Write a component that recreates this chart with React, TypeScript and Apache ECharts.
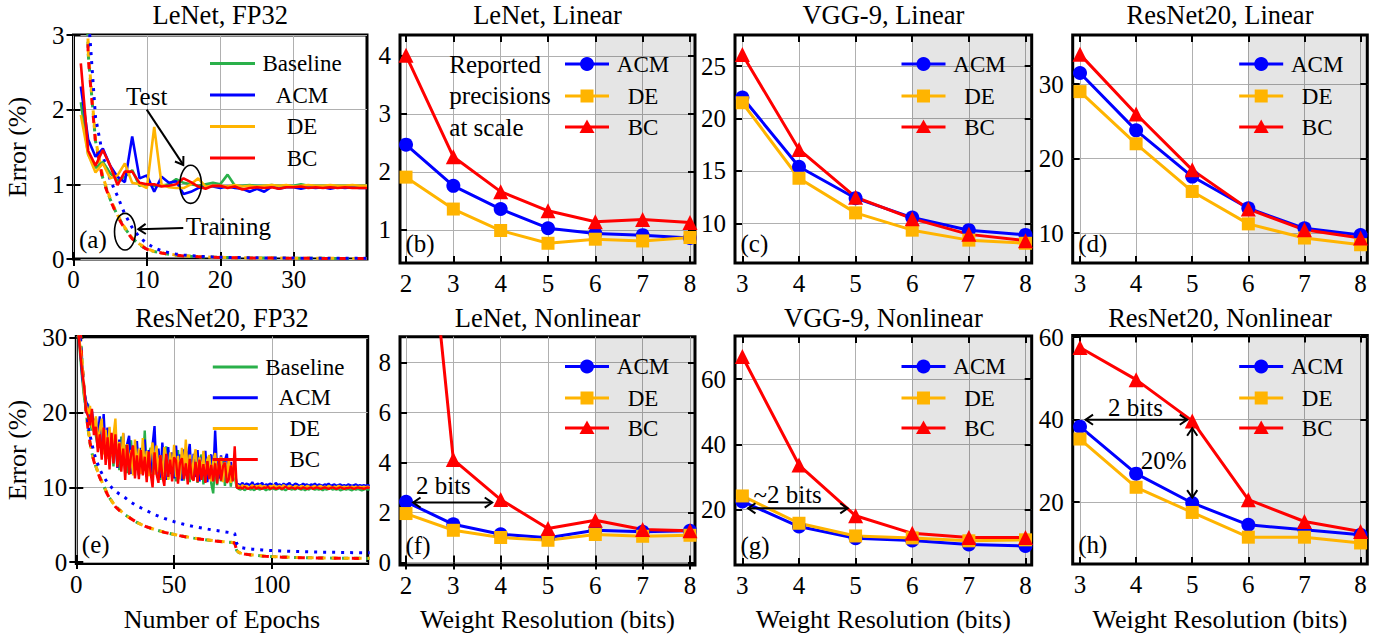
import React, { useEffect, useRef } from "react";
import * as echarts from "echarts";

const FONT = "Liberation Serif";
const C_BASE = "#2ab04a";
const C_ACM = "#0000ff";
const C_DE = "#ffb400";
const C_BC = "#ff0000";

// ---------------- tick labels ----------------
const ticksAx = [0, 10, 20, 30];
const ticksAy = [0, 1, 2, 3];
const ticksEx = [0, 50, 100];
const ticksEy = [0, 10, 20, 30];
const bitsLeNet = [2, 3, 4, 5, 6, 7, 8];
const bitsDeep = [3, 4, 5, 6, 7, 8];
const ticksBy = [1, 2, 3, 4];
const ticksCy = [10, 15, 20, 25];
const ticksDy = [10, 20, 30];
const ticksFy = [0, 2, 4, 6, 8];
const ticksGy = [20, 40, 60];
const ticksHy = [20, 40, 60];

// ---------------- titles / labels ----------------
const titles = [
  "LeNet, FP32", "LeNet, Linear", "VGG-9, Linear", "ResNet20, Linear",
  "ResNet20, FP32", "LeNet, Nonlinear", "VGG-9, Nonlinear", "ResNet20, Nonlinear",
];
const tags = ["(a)", "(b)", "(c)", "(d)", "(e)", "(f)", "(g)", "(h)"];
const fpLegend = ["Baseline", "ACM", "DE", "BC"];
const qLegend = ["ACM", "DE", "BC"];
const reportedLines = ["Reported", "precisions", "at scale"];

// ---------------- (a) LeNet FP32, epochs 1..40 ----------------
const aTestBaseline = [2.10, 1.40, 1.22, 1.30, 1.15, 1.05, 1.10, 1.19, 0.98, 1.00, 0.98, 0.98, 1.00, 1.07, 1.02, 1.00, 0.98, 1.00, 1.02, 1.00, 1.13, 0.98, 0.98, 0.99, 0.98, 0.98, 0.99, 0.98, 0.98, 0.98, 1.00, 0.98, 0.98, 0.98, 0.98, 0.98, 0.98, 0.98, 0.98, 0.98];
const aTestACM = [2.31, 1.60, 1.37, 1.48, 1.25, 1.10, 1.03, 1.64, 1.08, 1.12, 0.90, 1.10, 1.02, 1.04, 0.87, 0.90, 0.95, 0.97, 0.97, 0.95, 0.97, 0.95, 0.94, 0.90, 0.94, 0.90, 0.97, 0.94, 0.96, 0.96, 0.94, 0.96, 0.95, 0.96, 0.94, 0.96, 0.95, 0.96, 0.95, 0.95];
const aTestDE = [1.93, 1.40, 1.16, 1.28, 1.08, 1.12, 1.28, 1.02, 1.00, 0.95, 1.77, 1.00, 0.96, 0.95, 0.95, 1.00, 1.08, 0.97, 0.98, 0.98, 0.97, 0.99, 0.97, 0.98, 0.97, 0.98, 0.99, 0.98, 0.99, 0.97, 0.98, 0.99, 0.98, 0.98, 0.99, 0.98, 0.98, 0.99, 0.98, 0.98];
const aTestBC = [2.62, 1.45, 1.25, 1.46, 1.25, 0.99, 1.17, 1.17, 1.02, 1.00, 1.00, 0.97, 0.98, 1.00, 1.08, 1.03, 0.97, 0.94, 0.98, 0.98, 0.95, 0.97, 0.93, 0.95, 0.96, 0.95, 0.96, 0.94, 0.96, 0.96, 0.97, 0.95, 0.96, 0.95, 0.96, 0.95, 0.96, 0.95, 0.95, 0.95];
const aTrainBaseline = [9.5, 2.75, 1.58, 1.08, 0.80, 0.58, 0.41, 0.28, 0.19, 0.13, 0.10, 0.08, 0.065, 0.05, 0.042, 0.036, 0.031, 0.027, 0.024, 0.021, 0.019, 0.017, 0.016, 0.015, 0.014, 0.013, 0.012, 0.011, 0.011, 0.010, 0.010, 0.009, 0.009, 0.009, 0.008, 0.008, 0.008, 0.008, 0.007, 0.007];
const aTrainDE = [9.3, 2.80, 1.60, 1.10, 0.81, 0.59, 0.42, 0.28, 0.20, 0.14, 0.10, 0.08, 0.066, 0.052, 0.043, 0.037, 0.032, 0.028, 0.024, 0.022, 0.019, 0.018, 0.016, 0.015, 0.014, 0.013, 0.012, 0.012, 0.011, 0.010, 0.010, 0.010, 0.009, 0.009, 0.009, 0.008, 0.008, 0.008, 0.008, 0.007];
const aTrainBC = [9.6, 2.70, 1.56, 1.06, 0.79, 0.57, 0.40, 0.27, 0.19, 0.13, 0.10, 0.08, 0.064, 0.05, 0.041, 0.035, 0.030, 0.027, 0.023, 0.021, 0.019, 0.017, 0.016, 0.014, 0.013, 0.012, 0.012, 0.011, 0.010, 0.010, 0.010, 0.009, 0.009, 0.008, 0.008, 0.008, 0.008, 0.007, 0.007, 0.007];
const aTrainACM = [10.0, 3.30, 1.90, 1.38, 1.06, 0.84, 0.60, 0.42, 0.29, 0.21, 0.15, 0.11, 0.085, 0.065, 0.052, 0.044, 0.037, 0.032, 0.028, 0.025, 0.022, 0.020, 0.018, 0.017, 0.016, 0.015, 0.014, 0.013, 0.012, 0.012, 0.011, 0.011, 0.010, 0.010, 0.010, 0.009, 0.009, 0.009, 0.009, 0.008];

// ---------------- (e) ResNet20 FP32, epochs 1..150 ----------------
const eTestACMEarly = [31, 28.5, 25, 23, 21.5, 20.8, 19.5, 20.2, 18.0, 19.3, 16.5, 19.5, 15.8, 19.8, 14.6, 18.0, 13.8, 17.2, 14.0, 16.9, 12.6, 16.4, 13.0, 17.2, 12.2, 15.8, 16.9, 11.8, 15.6, 12.6, 16.2, 11.6, 15.3, 12.4, 16.4, 11.4, 15.0, 12.0, 15.7, 18.2, 11.8, 15.2, 11.3, 16.0, 12.2, 11.0, 15.4, 11.8, 14.7, 11.2, 15.6, 11.6, 14.4, 10.9, 15.1, 11.6, 14.2, 15.8, 11.0, 14.5, 11.4, 15.0, 10.8, 14.1, 11.5, 14.9, 10.7, 13.8, 14.4, 11.3, 17.6, 12.0, 11.2, 14.3, 10.8, 13.6, 14.5, 11.0, 13.4, 10.9, 12.2, 10.5];
const eTestACMLate = [10.4, 10.3, 10.6, 10.2, 10.5, 10.4, 10.3, 10.7, 10.2, 10.4, 10.5, 10.3, 10.6, 10.2, 10.4, 10.3, 10.5, 10.4, 10.2, 10.6, 10.3, 10.4, 10.2, 10.5, 10.3, 10.4, 10.6, 10.2, 10.3, 10.5, 10.4, 10.2, 10.3, 10.5, 10.3, 10.4, 10.2, 10.4, 10.3, 10.5, 10.2, 10.4, 10.3, 10.2, 10.4, 10.3, 10.5, 10.2, 10.3, 10.4, 10.2, 10.3, 10.4, 10.2, 10.3, 10.2, 10.4, 10.3, 10.2, 10.3, 10.4, 10.2, 10.3, 10.2, 10.3, 10.2, 10.3, 10.2];
const eTestBaseEarly = [31.5, 27.5, 24.5, 22.0, 20.5, 21.2, 18.8, 17.6, 19.1, 16.9, 15.4, 18.6, 14.5, 17.4, 14.0, 17.9, 13.4, 16.7, 12.8, 16.0, 15.2, 12.3, 16.8, 13.0, 15.7, 11.9, 15.1, 16.3, 12.1, 14.5, 15.4, 11.7, 14.7, 12.0, 17.6, 11.5, 14.4, 15.3, 11.3, 14.0, 12.1, 14.9, 11.0, 14.2, 11.8, 15.5, 11.1, 13.8, 11.6, 14.6, 10.8, 15.0, 11.5, 13.9, 10.9, 13.6, 14.8, 10.7, 13.7, 11.4, 14.1, 10.6, 13.5, 14.4, 10.4, 13.2, 11.1, 13.8, 10.5, 9.2, 13.3, 10.3, 12.8, 10.8, 13.6, 10.2, 12.6, 13.1, 10.1, 12.3, 11.4, 10.0];
const eTestBaseLate = [9.8, 9.7, 9.9, 9.6, 9.8, 9.9, 9.7, 9.8, 9.6, 9.9, 9.8, 9.7, 9.9, 9.8, 9.6, 9.8, 9.7, 9.9, 9.8, 9.7, 9.8, 9.9, 9.7, 9.8, 9.6, 9.8, 9.9, 9.7, 9.8, 9.7, 9.9, 9.8, 9.7, 9.8, 9.6, 9.8, 9.7, 9.9, 9.8, 9.7, 9.8, 9.7, 9.8, 9.6, 9.8, 9.7, 9.8, 9.9, 9.7, 9.8, 9.7, 9.8, 9.6, 9.7, 9.8, 9.7, 9.8, 9.7, 9.6, 9.8, 9.7, 9.8, 9.7, 9.6, 9.7, 9.8, 9.7, 9.7];
const eTestDEEarly = [30.5, 29.0, 26.4, 22.5, 21.0, 19.8, 20.9, 18.2, 17.5, 19.5, 15.6, 17.8, 19.2, 14.4, 17.7, 13.8, 18.1, 14.2, 16.9, 19.2, 13.1, 16.1, 13.3, 17.3, 12.6, 15.8, 12.8, 15.0, 11.6, 16.4, 12.3, 15.2, 11.8, 16.6, 12.2, 14.9, 11.5, 14.5, 16.0, 11.7, 15.6, 12.0, 14.3, 11.2, 15.4, 14.0, 11.0, 14.7, 11.9, 15.7, 11.4, 14.2, 11.1, 15.3, 11.8, 16.4, 11.3, 14.4, 11.0, 13.8, 15.1, 11.2, 14.0, 11.7, 14.9, 10.9, 13.7, 14.3, 10.8, 13.5, 14.6, 11.1, 13.2, 14.1, 10.7, 13.4, 11.2, 13.9, 10.6, 13.0, 11.8, 10.3];
const eTestDELate = [10.2, 10.0, 10.3, 10.1, 10.2, 9.9, 10.1, 10.3, 10.0, 10.2, 10.1, 10.3, 10.0, 10.2, 10.1, 9.9, 10.2, 10.1, 10.3, 10.0, 10.1, 10.2, 10.0, 10.3, 10.1, 10.0, 10.2, 10.1, 9.9, 10.2, 10.1, 10.0, 10.2, 10.1, 10.0, 10.2, 10.1, 10.0, 10.1, 10.2, 10.0, 10.1, 10.2, 10.0, 10.1, 10.0, 10.2, 10.1, 10.0, 10.1, 10.0, 10.2, 10.1, 10.0, 10.1, 10.0, 10.1, 10.0, 10.1, 10.0, 10.1, 10.0, 10.1, 10.0, 10.1, 10.0, 10.1, 10.0];
const eTestBCEarly = [31.0, 28.0, 25.5, 23.5, 20.2, 19.5, 18.3, 20.5, 17.0, 18.1, 14.7, 17.1, 13.7, 18.0, 13.0, 16.7, 12.4, 17.3, 13.2, 17.1, 12.7, 15.9, 12.1, 15.2, 11.0, 15.7, 11.7, 14.4, 15.6, 11.2, 14.3, 11.1, 15.0, 11.6, 14.1, 10.7, 14.8, 11.9, 10.0, 14.7, 11.8, 10.6, 14.3, 11.5, 10.2, 14.5, 11.4, 13.7, 10.8, 14.0, 13.6, 10.5, 13.3, 13.9, 11.1, 13.2, 10.4, 13.8, 11.3, 10.9, 13.4, 10.7, 13.7, 11.0, 13.1, 10.6, 13.5, 11.1, 13.0, 10.8, 13.2, 10.5, 13.6, 10.9, 12.8, 13.3, 10.6, 11.1, 12.9, 10.8, 15.5, 10.0];
const eTestBCLate = [9.9, 10.0, 9.8, 10.1, 9.9, 9.8, 10.0, 9.9, 10.1, 9.8, 10.0, 9.9, 9.8, 10.0, 9.9, 10.1, 9.8, 9.9, 10.0, 9.8, 9.9, 10.0, 9.8, 9.9, 10.1, 9.9, 9.8, 10.0, 9.9, 9.8, 10.0, 9.9, 9.8, 10.0, 9.9, 9.8, 9.9, 10.0, 9.8, 9.9, 10.0, 9.9, 9.8, 9.9, 10.0, 9.9, 9.8, 9.9, 10.0, 9.9, 9.8, 9.9, 10.0, 9.9, 9.8, 9.9, 9.9, 10.0, 9.9, 9.8, 9.9, 10.0, 9.9, 9.9, 9.8, 9.9, 10.0, 9.9];
const eTrainEpochs = [1, 2, 3, 4, 5, 6, 7, 8, 9, 10, 12, 14, 16, 18, 20, 22, 25, 28, 31, 35, 40, 45, 50, 55, 60, 65, 70, 75, 80, 81, 82, 83, 84, 86, 88, 90, 95, 100, 105, 110, 120, 130, 140, 150];
const eTrainBaseline = [45, 31, 26.5, 23, 20.3, 17.8, 16.0, 14.6, 13.6, 12.8, 11.4, 10.2, 9.0, 8.2, 7.5, 7.0, 6.3, 5.8, 5.3, 4.8, 4.35, 3.98, 3.68, 3.42, 3.2, 3.02, 2.86, 2.72, 2.6, 2.55, 1.55, 1.3, 1.18, 1.08, 1.0, 0.94, 0.82, 0.73, 0.66, 0.61, 0.56, 0.52, 0.5, 0.48];
const eTrainDE = [44, 31.2, 26.6, 23.1, 20.4, 17.9, 16.1, 14.7, 13.6, 12.8, 11.4, 10.2, 9.1, 8.2, 7.5, 7.0, 6.3, 5.8, 5.3, 4.8, 4.36, 3.99, 3.69, 3.43, 3.21, 3.03, 2.87, 2.73, 2.61, 2.56, 1.56, 1.31, 1.19, 1.09, 1.0, 0.95, 0.83, 0.74, 0.67, 0.62, 0.57, 0.53, 0.51, 0.49];
const eTrainBC = [45, 30.8, 26.4, 22.9, 20.2, 17.8, 16.0, 14.5, 13.5, 12.7, 11.3, 10.1, 9.0, 8.1, 7.4, 6.9, 6.3, 5.8, 5.3, 4.8, 4.34, 3.97, 3.67, 3.41, 3.19, 3.01, 2.85, 2.71, 2.59, 2.54, 1.54, 1.29, 1.17, 1.07, 0.99, 0.93, 0.81, 0.72, 0.65, 0.6, 0.55, 0.51, 0.49, 0.47];
const eTrainACM = [42, 30.5, 26, 22.8, 20.5, 18.5, 17.0, 15.8, 14.7, 13.8, 12.4, 11.4, 10.6, 10.0, 9.5, 9.1, 8.6, 8.0, 7.5, 7.0, 6.35, 5.85, 5.4, 5.05, 4.75, 4.5, 4.28, 4.08, 3.88, 3.82, 2.5, 2.1, 1.95, 1.85, 1.78, 1.72, 1.62, 1.53, 1.47, 1.42, 1.35, 1.3, 1.26, 1.23];

// ---------------- quantized results ----------------
const bLeNetLinACM = [2.47, 1.76, 1.36, 1.03, 0.94, 0.91, 0.86];
const bLeNetLinDE = [1.91, 1.36, 0.99, 0.77, 0.84, 0.81, 0.87];
const bLeNetLinBC = [4.01, 2.26, 1.66, 1.33, 1.14, 1.18, 1.13];

const cVggLinACM = [22.0, 15.4, 12.4, 10.55, 9.35, 8.9];
const cVggLinDE = [21.5, 14.3, 11.0, 9.35, 8.4, 8.1];
const cVggLinBC = [26.1, 17.05, 12.5, 10.45, 8.95, 8.35];

const dResLinACM = [31.5, 23.8, 17.6, 13.35, 10.65, 9.75];
const dResLinDE = [29.0, 22.0, 15.6, 11.25, 9.35, 8.45];
const dResLinBC = [34.0, 26.0, 18.5, 13.25, 10.45, 9.35];

const fLeNetNlACM = [2.43, 1.53, 1.13, 0.99, 1.29, 1.23, 1.27];
const fLeNetNlDE = [1.96, 1.29, 1.0, 0.89, 1.12, 1.05, 1.09];
const fLeNetNlBC = [22.8, 4.12, 2.52, 1.36, 1.69, 1.32, 1.27];

const gVggNlACM = [22.4, 14.7, 11.1, 10.4, 9.2, 8.7];
const gVggNlDE = [24.1, 15.7, 11.8, 11.2, 10.3, 10.6];
const gVggNlBC = [67.0, 33.6, 18.0, 12.6, 11.3, 11.3];

const hResNlACM = [38.3, 26.9, 19.8, 14.5, 13.3, 12.1];
const hResNlDE = [35.3, 23.6, 17.5, 11.5, 11.5, 10.1];
const hResNlBC = [57.5, 49.7, 39.7, 20.6, 15.3, 12.9];

const shadeFromBits = 6;

// ---------------- layout (pixels / limits) ----------------
const layout = [
  { left: 73.5, top: 35, width: 293.5, height: 224, xMin: 0, xMax: 40, yMin: 0, yMax: 3, xT: ticksAx, yT: ticksAy },
  { left: 400, top: 35, width: 295, height: 228, xMin: 1.873, xMax: 8.106, yMin: 0.43, yMax: 4.36, xT: bitsLeNet, yT: ticksBy },
  { left: 735, top: 35, width: 296.7, height: 228, xMin: 2.87, xMax: 8.11, yMin: 6.22, yMax: 27.96, xT: bitsDeep, yT: ticksCy },
  { left: 1072.7, top: 35, width: 294.6, height: 228, xMin: 2.87, xMax: 8.12, yMin: 6.0, yMax: 36.6, xT: bitsDeep, yT: ticksDy },
  { left: 76.3, top: 336.5, width: 291.4, height: 227, xMin: 0, xMax: 149, yMin: -0.2, yMax: 30.2, xT: ticksEx, yT: ticksEy },
  { left: 400, top: 336.7, width: 295, height: 228.3, xMin: 1.873, xMax: 8.106, yMin: -0.1, yMax: 9.04, xT: bitsLeNet, yT: ticksFy },
  { left: 735, top: 336, width: 296.7, height: 229, xMin: 2.87, xMax: 8.11, yMin: 2.86, yMax: 73.3, xT: bitsDeep, yT: ticksGy },
  { left: 1072.7, top: 335.5, width: 294.6, height: 228.5, xMin: 2.87, xMax: 8.12, yMin: 5.0, yMax: 60.4, xT: bitsDeep, yT: ticksHy },
];

const range = (a: number, b: number) => {
  const r: number[] = [];
  for (let i = a; i <= b; i++) r.push(i);
  return r;
};

function pairs(xs: number[], ys: number[]) {
  return ys.map((y, i) => [xs[i], y]);
}

function fpLine(p: number, name: string, color: string, xs: number[], ys: number[], width: number, dash?: number[], offset = 0) {
  return {
    type: "line", name, xAxisIndex: 2 * p, yAxisIndex: 2 * p,
    data: pairs(xs, ys), showSymbol: false, clip: true, silent: true,
    lineStyle: { color, width, type: dash ? dash : "solid", dashOffset: offset, cap: "butt" },
    itemStyle: { color },
  };
}

function qLine(p: number, name: string, color: string, symbol: string, size: number, xs: number[], ys: number[], shade: boolean) {
  const s: any = {
    type: "line", name, xAxisIndex: 2 * p, yAxisIndex: 2 * p,
    data: pairs(xs, ys), symbol, symbolSize: size, showSymbol: true, clip: true, silent: true,
    lineStyle: { color, width: 3 }, itemStyle: { color },
  };
  if (shade) {
    s.markArea = {
      silent: true,
      itemStyle: { color: "rgba(0,0,0,0.1)" },
      data: [[{ xAxis: shadeFromBits }, { xAxis: layout[p].xMax }]],
    };
  }
  return s;
}

function buildOption() {
  const grid: any[] = [];
  const xAxis: any[] = [];
  const yAxis: any[] = [];
  const tickStyle = { show: true, inside: true, length: 7, lineStyle: { color: "#000", width: 2 } };
  const labelStyle = { color: "#000", fontSize: 25, fontFamily: FONT };
  layout.forEach((L, i) => {
    grid.push({ left: L.left, top: L.top, width: L.width, height: L.height, show: true, borderColor: "#000", borderWidth: 3, backgroundColor: "transparent", containLabel: false });
    xAxis.push({
      type: "value", gridIndex: i, position: "bottom", min: L.xMin, max: L.xMax,
      axisLine: { show: false },
      axisTick: { ...tickStyle, customValues: L.xT },
      axisLabel: { ...labelStyle, margin: 8, customValues: L.xT },
      splitLine: { show: true, lineStyle: { color: "#b0b0b0", width: 1 } },
    });
    xAxis.push({
      type: "value", gridIndex: i, position: "top", min: L.xMin, max: L.xMax,
      axisLine: { show: false },
      axisTick: { ...tickStyle, customValues: L.xT },
      axisLabel: { show: false, customValues: L.xT },
      splitLine: { show: false },
    });
    yAxis.push({
      type: "value", gridIndex: i, position: "left", min: L.yMin, max: L.yMax,
      axisLine: { show: false },
      axisTick: { ...tickStyle, customValues: L.yT },
      axisLabel: { ...labelStyle, margin: 9, customValues: L.yT },
      splitLine: { show: true, lineStyle: { color: "#b0b0b0", width: 1 } },
    });
    yAxis.push({
      type: "value", gridIndex: i, position: "right", min: L.yMin, max: L.yMax,
      axisLine: { show: false },
      axisTick: { ...tickStyle, customValues: L.yT },
      axisLabel: { show: false, customValues: L.yT },
      splitLine: { show: false },
    });
  });

  const aEp = range(1, 40);
  const eEp = range(1, 150);
  const series: any[] = [
    // (a) training
    fpLine(0, "Baseline train", C_BASE, aEp, aTrainBaseline, 3, [6, 6], 0),
    fpLine(0, "DE train", C_DE, aEp, aTrainDE, 3, [6, 6], 6),
    fpLine(0, "BC train", C_BC, aEp, aTrainBC, 3, [7, 11], 2),
    fpLine(0, "ACM train", C_ACM, aEp, aTrainACM, 3, [3, 6], 0),
    // (a) test
    fpLine(0, "Baseline", C_BASE, aEp, aTestBaseline, 2.6),
    fpLine(0, "ACM", C_ACM, aEp, aTestACM, 2.6),
    fpLine(0, "DE", C_DE, aEp, aTestDE, 2.6),
    fpLine(0, "BC", C_BC, aEp, aTestBC, 2.6),
    // (e) training
    fpLine(4, "Baseline train", C_BASE, eTrainEpochs, eTrainBaseline, 3, [6, 6], 0),
    fpLine(4, "DE train", C_DE, eTrainEpochs, eTrainDE, 3, [6, 6], 6),
    fpLine(4, "BC train", C_BC, eTrainEpochs, eTrainBC, 3, [7, 11], 2),
    fpLine(4, "ACM train", C_ACM, eTrainEpochs, eTrainACM, 3, [3, 6], 0),
    // (e) test
    fpLine(4, "Baseline", C_BASE, eEp, eTestBaseEarly.concat(eTestBaseLate), 2.4),
    fpLine(4, "ACM", C_ACM, eEp, eTestACMEarly.concat(eTestACMLate), 2.4),
    fpLine(4, "DE", C_DE, eEp, eTestDEEarly.concat(eTestDELate), 2.4),
    fpLine(4, "BC", C_BC, eEp, eTestBCEarly.concat(eTestBCLate), 2.4),
  ];
  const q: [number, number[], number[], number[], number[]][] = [
    [1, bitsLeNet, bLeNetLinACM, bLeNetLinDE, bLeNetLinBC],
    [2, bitsDeep, cVggLinACM, cVggLinDE, cVggLinBC],
    [3, bitsDeep, dResLinACM, dResLinDE, dResLinBC],
    [5, bitsLeNet, fLeNetNlACM, fLeNetNlDE, fLeNetNlBC],
    [6, bitsDeep, gVggNlACM, gVggNlDE, gVggNlBC],
    [7, bitsDeep, hResNlACM, hResNlDE, hResNlBC],
  ];
  q.forEach(([p, xs, acm, de, bc]) => {
    series.push(qLine(p, "ACM", C_ACM, "circle", 14, xs, acm, true));
    series.push(qLine(p, "DE", C_DE, "rect", 13, xs, de, false));
    series.push(qLine(p, "BC", C_BC, "triangle", 15, xs, bc, false));
  });

  return { animation: false, backgroundColor: "#ffffff", textStyle: { fontFamily: FONT }, grid, xAxis, yAxis, series };
}

function txt(x: number, y: number, text: string, size: number, align = "center", rotation = 0) {
  return {
    type: "text", x, y, rotation, z: 100,
    style: { text, fill: "#000", fontSize: size, fontFamily: FONT, align, verticalAlign: "middle" },
  };
}

function arrow(p1: number[], p2: number[], startHead: boolean, endHead: boolean) {
  const els: any[] = [
    { type: "line", z: 100, shape: { x1: p1[0], y1: p1[1], x2: p2[0], y2: p2[1] }, style: { stroke: "#000", lineWidth: 2 } },
  ];
  const head = (tip: number[], from: number[]) => {
    const ang = Math.atan2(from[1] - tip[1], from[0] - tip[0]);
    const Lh = 9, a = 0.6;
    return {
      type: "polyline", z: 100,
      shape: { points: [[tip[0] + Lh * Math.cos(ang + a), tip[1] + Lh * Math.sin(ang + a)], tip, [tip[0] + Lh * Math.cos(ang - a), tip[1] + Lh * Math.sin(ang - a)]] },
      style: { stroke: "#000", lineWidth: 2, fill: "none" },
    };
  };
  if (endHead) els.push(head(p2, p1));
  if (startHead) els.push(head(p1, p2));
  return els;
}

function buildGraphics(chart: any) {
  const px = (p: number, x: number, y: number) => chart.convertToPixel({ xAxisIndex: 2 * p, yAxisIndex: 2 * p }, [x, y]);
  const els: any[] = [];
  // titles, tags
  layout.forEach((L, i) => {
    const cx = L.left + L.width / 2;
    els.push(txt(cx, i < 4 ? 15 : 317.5, titles[i], 26.5));
    els.push(txt(L.left + 5.5, L.top + L.height - 19.5, tags[i], 25, "left"));
  });
  // axis labels
  els.push(txt(17.5, layout[0].top + layout[0].height / 2, "Error (%)", 26, "center", Math.PI / 2));
  els.push(txt(17.5, layout[4].top + layout[4].height / 2, "Error (%)", 26, "center", Math.PI / 2));
  els.push(txt(layout[4].left + layout[4].width / 2, 619, "Number of Epochs", 26));
  [5, 6, 7].forEach((p) => els.push(txt(layout[p].left + layout[p].width / 2, 619, "Weight Resolution (bits)", 26)));

  // FP32 legends
  const fpColors = [C_BASE, C_ACM, C_DE, C_BC];
  [[0, 63.5, 31.5], [4, 367, 30.8]].forEach(([p, y0, dy]) => {
    const L = layout[p];
    fpLegend.forEach((name, k) => {
      const y = y0 + dy * k;
      els.push({ type: "line", z: 100, shape: { x1: L.left + 136.5, y1: y, x2: L.left + 181.5, y2: y }, style: { stroke: fpColors[k], lineWidth: 3 } });
      els.push(txt(L.left + 228.5, y, name, 23));
    });
  });
  // quantized legends
  const qColors = [C_ACM, C_DE, C_BC];
  [1, 2, 3, 5, 6, 7].forEach((p) => {
    const L = layout[p];
    const base = p === 1 || p === 5 ? 165 : 166.5;
    const rows = p < 4 ? [64, 96, 127] : [366.5, 398, 428];
    qLegend.forEach((name, k) => {
      const y = rows[k];
      const x1 = L.left + base, x2 = x1 + 44, mx = x1 + 22;
      els.push({ type: "line", z: 100, shape: { x1, y1: y, x2, y2: y }, style: { stroke: qColors[k], lineWidth: 3 } });
      if (k === 0) els.push({ type: "circle", z: 101, shape: { cx: mx, cy: y, r: 7 }, style: { fill: qColors[k] } });
      if (k === 1) els.push({ type: "rect", z: 101, shape: { x: mx - 6.5, y: y - 6.5, width: 13, height: 13 }, style: { fill: qColors[k] } });
      if (k === 2) els.push({ type: "polygon", z: 101, shape: { points: [[mx, y - 7.5], [mx + 7.5, y + 6], [mx - 7.5, y + 6]] }, style: { fill: qColors[k] } });
      els.push(txt(x1 + 78, y, name, 23));
    });
  });
  // "Reported precisions at scale"
  [64, 95.5, 127].forEach((y, k) => els.push(txt(layout[1].left + 49.3, y, reportedLines[k], 25, "left")));

  // (a) annotations
  const tTxt = px(0, 9.98, 2.17);
  els.push(txt(tTxt[0], tTxt[1], "Test", 25));
  els.push(...arrow(px(0, 9.98, 2.0), px(0, 14.96, 1.26), false, true));
  const ellipse = (p: number, cx: number, cy: number, hx: number, hy: number) => {
    const c = px(p, cx, cy);
    const e = px(p, cx + hx, cy + hy);
    return { type: "ellipse", z: 100, shape: { cx: c[0], cy: c[1], rx: Math.abs(e[0] - c[0]), ry: Math.abs(e[1] - c[1]) }, style: { fill: "none", stroke: "#000", lineWidth: 1.6 } };
  };
  els.push(ellipse(0, 15.97, 1.0, 1.47, 0.255));
  const trTxt = px(0, 21.1, 0.43);
  els.push(txt(trTxt[0], trTxt[1], "Training", 25));
  els.push(...arrow(px(0, 14.96, 0.415), px(0, 8.83, 0.40), false, true));
  els.push(ellipse(0, 7.02, 0.366, 1.43, 0.245));

  // (f)
  const fT = px(5, 2.79, 3.07);
  els.push(txt(fT[0], fT[1], "2 bits", 25));
  els.push(...arrow(px(5, 2.15, 2.4), px(5, 3.82, 2.4), true, true));
  // (g)
  const gT = px(6, 3.8, 24.4);
  els.push(txt(gT[0], gT[1], "~2 bits", 25));
  els.push(...arrow(px(6, 3.1, 20.3), px(6, 4.86, 20.3), true, true));
  // (h)
  const hT = px(7, 3.99, 42.9);
  els.push(txt(hT[0], hT[1], "2 bits", 25));
  els.push(...arrow(px(7, 3.1, 40), px(7, 4.91, 40), true, true));
  const hP = px(7, 4.49, 30.2);
  els.push(txt(hP[0], hP[1], "20%", 25));
  els.push(...arrow(px(7, 5.0, 37.9), px(7, 5.0, 21.1), true, true));
  return els;
}

export default function App() {
  const ref = useRef<HTMLDivElement>(null);
  useEffect(() => {
    const chart = echarts.init(ref.current!, null, { renderer: "svg" });
    chart.setOption(buildOption() as any);
    chart.setOption({ graphic: { elements: buildGraphics(chart) } } as any);
    return () => chart.dispose();
  }, []);
  return <div ref={ref} style={{ position: "absolute", left: 0, top: 0, width: 1385, height: 639, background: "#fff" }} />;
}
